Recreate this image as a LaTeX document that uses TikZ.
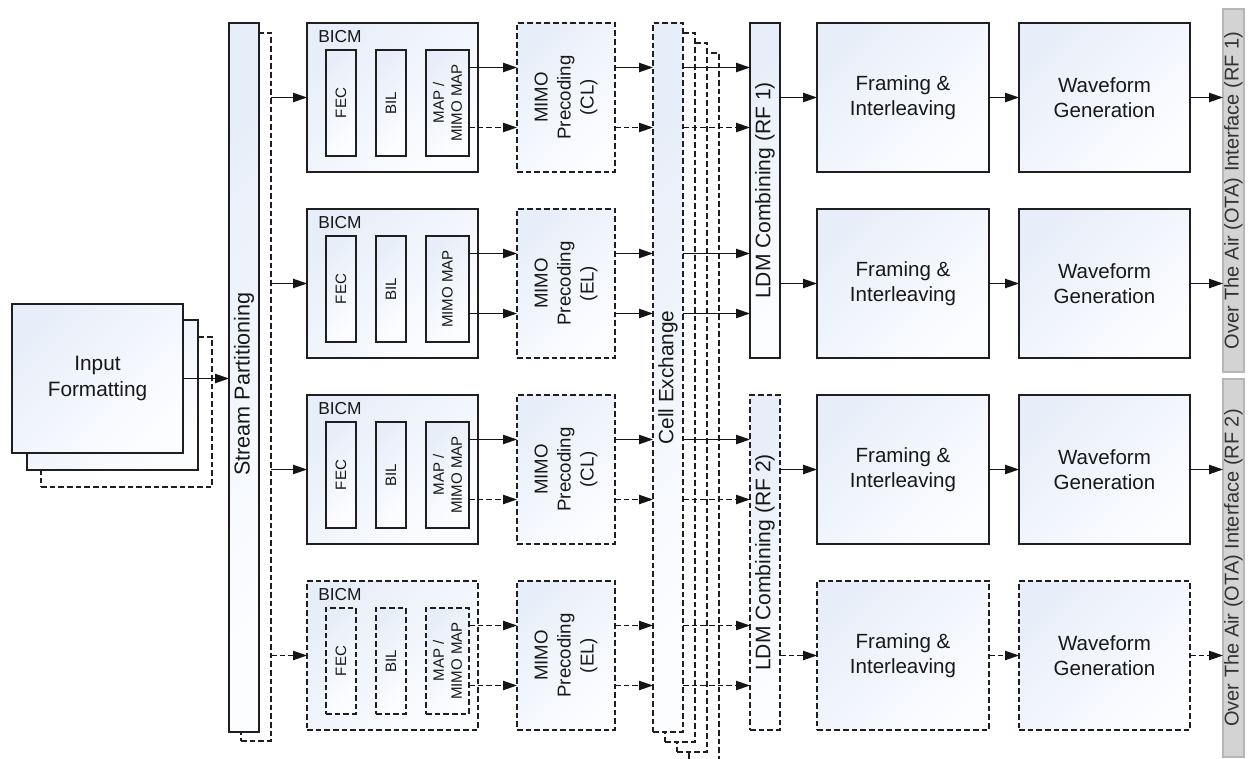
\documentclass[tikz,border=0pt]{standalone}
\usepackage{fontspec}
\setmainfont{Liberation Sans}
\usetikzlibrary{arrows.meta,fit}
\definecolor{gA}{RGB}{232,238,249}
\definecolor{gB}{RGB}{252,253,255}
\definecolor{txt}{RGB}{24,24,24}
\definecolor{otafill}{RGB}{211,211,211}
\definecolor{otaline}{RGB}{182,182,182}
\newcommand{\mapAB}{MAP /\\MIMO MAP}
\newcommand{\mapMM}{MIMO MAP}
\tikzset{
  box/.style={draw=black!88, line width=1pt, inner sep=0pt, outer sep=0pt,
    top color=gA, bottom color=gB, shading angle=45},
  dbox/.style={box, dash pattern=on 4.2pt off 2.3pt},
  dwbox/.style={draw=black!88, line width=1pt, inner sep=0pt, outer sep=0pt,
    fill=white, dash pattern=on 4.2pt off 2.3pt},
  otabox/.style={draw=otaline, line width=1pt, fill=otafill, inner sep=0pt, outer sep=0pt},
  arr/.style={line width=1pt, draw=black!92, -{Triangle[length=10.5pt,width=7pt]}},
  darr/.style={arr, dash pattern=on 4.2pt off 2.3pt},
  lbl/.style={font=\fontsize{15.4}{18.8}\selectfont, align=center, text=txt, inner sep=0pt},
  biglbl/.style={font=\fontsize{16.2}{19}\selectfont, text=txt, inner sep=0pt, rotate=90},
  mlbl/.style={font=\fontsize{14}{17.2}\selectfont, align=center, text=txt, inner sep=0pt, rotate=90},
  blbl/.style={font=\fontsize{13}{15}\selectfont, text=txt, inner sep=0pt},
  ilbl/.style={font=\fontsize{11.3}{13.6}\selectfont, align=center, text=txt, inner sep=0pt, rotate=90},
  olbl/.style={font=\fontsize{15}{18}\selectfont, text=black!80, inner sep=0pt, rotate=90},
}
\begin{document}
\begin{tikzpicture}[x=0.75pt,y=-0.75pt]
\useasboundingbox (0,0) rectangle (1252,759);
\clip (0,0) rectangle (1252,759);

% Input formatting stack
\node[dwbox, fit={(41,337)(212,487)}] (if3) {};
\node[box, fit={(27,320)(198,470)}] (if2) {};
\node[box, fit={(12,304)(183,453)}] (if1) {};
\node[lbl, font=\fontsize{15.6}{19.5}\selectfont] at (if1) {Input\\Formatting};

% Stream partitioning
\node[dwbox, fit={(241,33)(271,741)}] (sp2) {};
\node[box, fit={(229,23)(259,732)}] (sp1) {};
\node[biglbl] at (244,384) {Stream Partitioning};

% Cell exchange stack
\node[dwbox, fit={(689,53)(719,775)}] (ce4) {};
\node[dwbox, fit={(677,43)(707,752)}] (ce3) {};
\node[dwbox, fit={(665,33)(695,742)}] (ce2) {};
\node[dbox, fit={(653,23)(683,732)}] (ce1) {};
\node[biglbl, font=\fontsize{15.6}{18}\selectfont] at (ce1) {Cell Exchange};

% LDM combining
\node[box, fit={(750,23)(780,358)}] (ldm1) {};
\node[biglbl, font=\fontsize{15.8}{18}\selectfont] at (ldm1) {LDM Combining (RF 1)};
\node[dbox, fit={(750,395)(780,730)}] (ldm2) {};
\node[biglbl, font=\fontsize{15.8}{18}\selectfont] at (ldm2) {LDM Combining (RF 2)};

% OTA interfaces
\node[otabox, fit={(1223,9)(1244,372)}] (ota1) {};
\node[olbl] at (ota1) {Over The Air (OTA) Interface (RF 1)};
\node[otabox, fit={(1223,379)(1244,757)}] (ota2) {};
\node[olbl] at (ota2) {Over The Air (OTA) Interface (RF 2)};

% Rows
\foreach \i/\T/\bs/\mt/\pl in {
  1/23/box/\mapAB/CL,
  2/209/box/\mapMM/EL,
  3/395/box/\mapAB/CL,
  4/581/dbox/\mapAB/EL}
{
  \pgfmathsetmacro\B{\T+149}
  \pgfmathsetmacro\C{\T+74.5}
  \pgfmathsetmacro\It{\T+27}
  \pgfmathsetmacro\Ib{\T+133}
  \coordinate (u\i) at (0,\C-30);
  \coordinate (l\i) at (0,\C+30);
  % BICM
  \node[\bs, fit={(307,\T)(478,\B)}] (b\i) {};
  \node[blbl, anchor=west] at (318,\T+14) {BICM};
  \node[\bs, fit={(326,\It)(356,\Ib)}] (fec\i) {};
  \node[ilbl] at (fec\i) {FEC};
  \node[\bs, fit={(376,\It)(406,\Ib)}] (bil\i) {};
  \node[ilbl] at (bil\i) {BIL};
  \node[\bs, fit={(426,\It)(469,\Ib)}] (m\i) {};
  \node[ilbl] at (m\i) {\mt};
  % MIMO precoding
  \node[dbox, fit={(517,\T)(615,\B)}] (p\i) {};
  \node[mlbl] at (p\i) {MIMO\\Precoding\\(\pl)};
  % Framing and waveform
  \node[\bs, fit={(817,\T)(989,\B)}] (f\i) {};
  \node[lbl] at (f\i) {Framing \&\\Interleaving};
  \node[\bs, fit={(1019,\T)(1190,\B)}] (w\i) {};
  \node[lbl] at (w\i) {Waveform\\Generation};
}

% Connectors
\draw[arr] (if1.east) -- (if1.east -| sp1.west);
\foreach \i/\sa/\ua/\la/\L/\O in {
  1/arr/arr/darr/ldm1/ota1,
  2/arr/arr/arr/ldm1/ota1,
  3/arr/arr/darr/ldm2/ota2,
  4/darr/darr/darr/ldm2/ota2}
{
  \draw[\sa] (sp2.east |- b\i.west) -- (b\i.west);
  \draw[\ua] (m\i.east |- u\i) -- (p\i.west |- u\i);
  \draw[\la] (m\i.east |- l\i) -- (p\i.west |- l\i);
  \draw[\ua] (p\i.east |- u\i) -- (ce1.west |- u\i);
  \draw[\la] (p\i.east |- l\i) -- (ce1.west |- l\i);
  \draw[\ua] (ce1.east |- u\i) -- (\L.west |- u\i);
  \draw[\la] (ce1.east |- l\i) -- (\L.west |- l\i);
  \draw[\sa] (\L.east |- f\i.west) -- (f\i.west);
  \draw[\sa] (f\i.east) -- (w\i.west);
  \draw[\sa] (w\i.east) -- (w\i.east -| \O.west);
}
\end{tikzpicture}
\end{document}
